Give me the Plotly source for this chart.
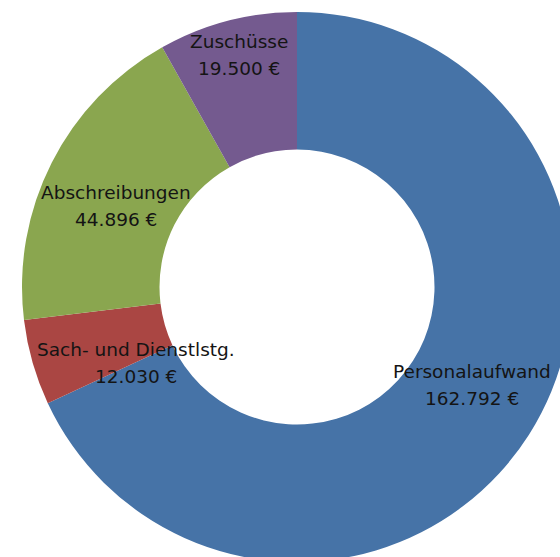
import plotly.graph_objects as go

# ---- data ----
categories = ["Personalaufwand", "Sach- und Dienstlstg.", "Abschreibungen", "Zuschüsse"]
amounts = [162792, 12030, 44896, 19500]
colors = ["#4673A7", "#AA4643", "#8AA64F", "#745A8F"]

# label block centres (pixels in the 560x557 frame), per category
label_px = [(472, 385), (136, 363), (116, 206), (239, 55)]

W, H = 575, 565
ML, MT, MR, MB = 22, 12, 3, 3
PW, PH = W - ML - MR, H - MT - MB


def fmt_eur(v):
    return f"{v:,}".replace(",", ".") + " €"


fig = go.Figure(
    go.Pie(
        labels=categories,
        values=amounts,
        hole=0.5,
        sort=False,
        direction="clockwise",
        rotation=0,
        marker=dict(colors=colors, line=dict(width=0)),
        textinfo="none",
        hoverinfo="label+value",
        showlegend=False,
        domain=dict(x=[0, 1], y=[0, 1]),
    )
)

annotations = []
for name, val, (cx, cy) in zip(categories, amounts, label_px):
    for text, dy in ((name, -13.5), (fmt_eur(val), 13.5)):
        annotations.append(
            dict(
                text=text,
                x=(cx - ML) / PW,
                y=1 - (cy + dy - MT) / PH,
                xref="paper",
                yref="paper",
                xanchor="center",
                yanchor="middle",
                showarrow=False,
                font=dict(family="DejaVu Sans", size=18.5, color="#141414"),
            )
        )

fig.update_layout(
    width=W,
    height=H,
    margin=dict(l=ML, r=MR, t=MT, b=MB),
    paper_bgcolor="white",
    plot_bgcolor="white",
    annotations=annotations,
)

fig.write_html(
    "out.html",
    config={"displayModeBar": False},
    post_script=(
        "document.body.style.margin='0';"
        "document.body.style.overflow='hidden';"
        "document.documentElement.style.overflow='hidden';"
    ),
)
